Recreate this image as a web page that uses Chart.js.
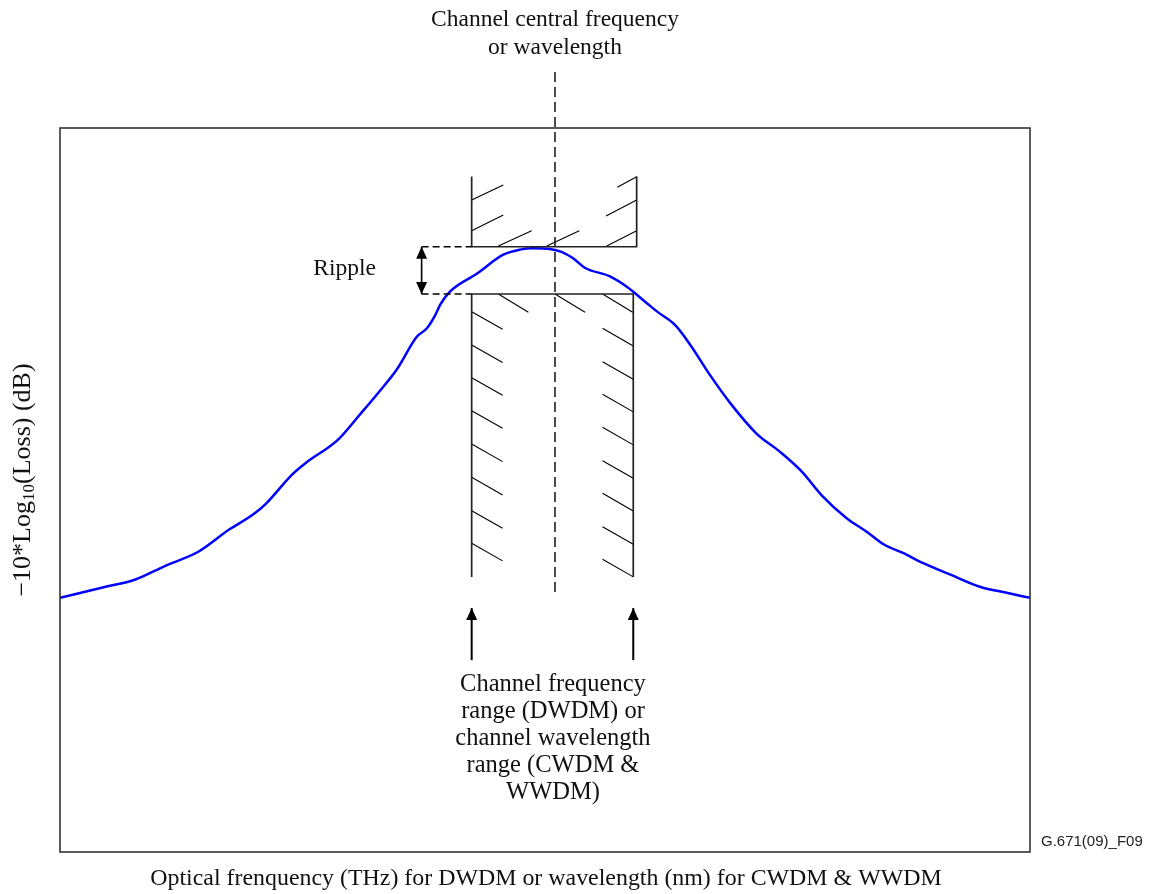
<!DOCTYPE html>
<html><head><meta charset="utf-8">
<script src="https://cdn.jsdelivr.net/npm/chart.js@4/dist/chart.umd.min.js"></script>
<style>html,body{margin:0;padding:0;background:#fff;}#wrap{width:1155px;height:894px;}</style>
</head><body><div id="wrap"><canvas id="c" width="1155" height="894"></canvas></div>
<script>
// ---- Data (relative units: frequency 0–100 across plot, level 0–100 up the plot) ----
const frequency = [0, 4.6, 7.7, 10.8, 14.3, 17.4, 19.9, 21.3, 23.9, 25.3, 28.7, 30.9, 32.8, 34.7, 36.8, 37.8, 38.7, 39.2, 40.2, 43.0, 45.7, 47.4, 48.8, 50.5, 51.7, 52.9, 54.1, 56.7, 58.4, 60.5, 61.7, 63.4, 65.0, 67.0, 69.1, 71.8, 74.2, 76.5, 78.5, 81.1, 83.2, 84.9, 86.9, 89.0, 91.8, 94.9, 97.6, 100];
const level = [35.1, 36.6, 37.6, 39.5, 41.5, 44.5, 46.6, 48.2, 52.1, 53.7, 57.0, 60.4, 63.4, 66.6, 71.2, 72.3, 74.2, 75.6, 77.4, 79.9, 82.5, 83.2, 83.4, 83.3, 82.9, 82.0, 80.7, 79.5, 78.1, 75.8, 74.5, 72.8, 70.0, 65.9, 62.0, 57.8, 55.3, 52.5, 49.3, 46.1, 44.2, 42.5, 41.3, 39.9, 38.3, 36.6, 35.8, 35.1];

// Mask (channel range) limits
const channelEdges = [42.44, 59.45, 59.1];   // left, upper-right, lower-right
const centreFrequency = 51.03;
const maskLevels = [93.3, 83.6, 77.07, 38.0]; // upper-mask top, upper limit, lower limit, lower-mask bottom
const centreLineSpan = [35.9, 108.0];
const rippleMarker = 37.28;
const channelArrowSpan = [26.5, 33.7];

// Hatch start points
const upperHatchStarts = [[42.44, 90.06], [42.44, 85.82], [45.19, 83.70], [50.18, 83.70], [56.36, 83.70], [56.29, 87.85], [57.45, 91.81]];
const upperHatchEnds   = [[45.70, 92.13], [45.70, 87.98], [48.62, 85.82], [53.54, 85.82], [59.45, 85.82], [59.45, 90.06], [59.45, 93.27]];
const lowerLeftHatchY  = [74.63, 70.03, 65.51, 60.95, 56.35, 51.75, 47.14, 42.64];
const lowerRightHatchY = [72.33, 67.72, 63.22, 58.66, 54.05, 49.54, 44.93, 40.43];
const lowerTopHatchX   = [45.19, 51.03, 55.94];

// Text
const topLabel = ['Channel central frequency', 'or wavelength'];
const rangeLabel = ['Channel frequency', 'range (DWDM) or', 'channel wavelength', 'range (CWDM &', 'WWDM)'];
const rippleLabel = 'Ripple';
const xTitle = 'Optical frenquency (THz) for DWDM or wavelength (nm) for CWDM & WWDM';
const yTitleParts = ['\u221210*Log', '10', '(Loss) (dB)'];
const figureId = 'G.671(09)_F09';

// ---- Build datasets ----
const pts = (xs, ys) => xs.map((x, i) => ({x, y: ys[i]}));
const GAP = {x: null, y: null};

const hatchData = [];
upperHatchStarts.forEach((s, i) => { hatchData.push({x: s[0], y: s[1]}, {x: upperHatchEnds[i][0], y: upperHatchEnds[i][1]}, GAP); });
const LDX = 3.19, LDY = 2.43;
lowerLeftHatchY.forEach(y => hatchData.push({x: channelEdges[0], y}, {x: channelEdges[0] + LDX, y: y - LDY}, GAP));
lowerRightHatchY.forEach(y => hatchData.push({x: channelEdges[2] - LDX + 0.02, y}, {x: channelEdges[2], y: y - LDY}, GAP));
lowerTopHatchX.forEach(x => hatchData.push({x, y: maskLevels[2]}, {x: Math.min(x + 3.1, channelEdges[2]), y: maskLevels[2] - 2.53}, GAP));

const black = '#000';
const lineDs = (data, extra) => Object.assign({data, borderColor: black, borderWidth: 1.5, pointRadius: 0, fill: false, tension: 0, spanGaps: false}, extra || {});

const datasets = [
  lineDs([{x: channelEdges[0], y: maskLevels[0]}, {x: channelEdges[0], y: maskLevels[1]}, {x: channelEdges[1], y: maskLevels[1]}, {x: channelEdges[1], y: maskLevels[0]}], {borderColor: '#222', borderWidth: 1.7}),
  lineDs([{x: channelEdges[0], y: maskLevels[3]}, {x: channelEdges[0], y: maskLevels[2]}, {x: channelEdges[2], y: maskLevels[2]}, {x: channelEdges[2], y: maskLevels[3]}], {borderColor: '#222', borderWidth: 1.7}),
  lineDs(hatchData, {borderWidth: 1.1}),
  lineDs([{x: centreFrequency, y: centreLineSpan[0]}, {x: centreFrequency, y: centreLineSpan[1]}], {borderWidth: 1.4, borderDash: [10, 5], clip: false}),
  lineDs([{x: rippleMarker, y: maskLevels[1]}, {x: channelEdges[0], y: maskLevels[1]}, GAP, {x: rippleMarker, y: maskLevels[2]}, {x: channelEdges[0], y: maskLevels[2]}], {borderWidth: 1.3, borderDash: [7, 4]}),
  lineDs([{x: rippleMarker, y: maskLevels[1]}, {x: rippleMarker, y: maskLevels[2]}], {borderWidth: 1.6, arrows: 'both'}),
  lineDs([{x: channelEdges[0], y: channelArrowSpan[0]}, {x: channelEdges[0], y: channelArrowSpan[1]}], {borderWidth: 2, arrows: 'end'}),
  lineDs([{x: channelEdges[2], y: channelArrowSpan[0]}, {x: channelEdges[2], y: channelArrowSpan[1]}], {borderWidth: 2, arrows: 'end'}),
  {data: pts(frequency, level), borderColor: '#0000ff', borderWidth: 2.5, pointRadius: 0, fill: false, cubicInterpolationMode: 'monotone'}
];

// ---- Plugins ----
const SERIF = '"Liberation Serif", "Times New Roman", serif';
const decor = {
  id: 'decor',
  afterDatasetsDraw(chart) {
    const {ctx, chartArea: a, scales: {x, y}} = chart;
    ctx.save();
    // arrow heads
    chart.data.datasets.forEach((ds, i) => {
      if (!ds.arrows) return;
      const meta = chart.getDatasetMeta(i);
      const p0 = meta.data[0], p1 = meta.data[meta.data.length - 1];
      const head = (tip, from) => {
        const ang = Math.atan2(tip.y - from.y, tip.x - from.x);
        const L = 12, W = 5.5;
        ctx.beginPath();
        ctx.moveTo(tip.x, tip.y);
        ctx.lineTo(tip.x - L * Math.cos(ang) + W * Math.sin(ang), tip.y - L * Math.sin(ang) - W * Math.cos(ang));
        ctx.lineTo(tip.x - L * Math.cos(ang) - W * Math.sin(ang), tip.y - L * Math.sin(ang) + W * Math.cos(ang));
        ctx.closePath();
        ctx.fillStyle = '#000';
        ctx.fill();
      };
      head(p1, p0);
      if (ds.arrows === 'both') head(p0, p1);
    });
    // frame
    ctx.strokeStyle = '#333';
    ctx.lineWidth = 1.6;
    ctx.strokeRect(a.left, a.top, a.right - a.left, a.bottom - a.top);

    // texts
    ctx.fillStyle = '#111';
    ctx.textBaseline = 'middle';
    ctx.textAlign = 'center';
    ctx.font = '23.5px ' + SERIF;
    const cx = x.getPixelForValue(centreFrequency);
    topLabel.forEach((t, i) => ctx.fillText(t, cx, 20 + i * 28));
    ctx.fillText(rippleLabel, x.getPixelForValue(rippleMarker) - 77, (y.getPixelForValue(maskLevels[1]) + y.getPixelForValue(maskLevels[2])) / 2 - 2);
    ctx.font = '24.5px ' + SERIF;
    const rx = (x.getPixelForValue(channelEdges[0]) + x.getPixelForValue(channelEdges[2])) / 2;
    rangeLabel.forEach((t, i) => ctx.fillText(t, rx + 0.5, a.bottom - 167 + i * 27));
    ctx.font = '23.9px ' + SERIF;
    ctx.fillText(xTitle, (a.left + a.right) / 2 + 1, a.bottom + 27);

    // y title with subscript
    ctx.save();
    ctx.translate(23, 480);
    ctx.rotate(-Math.PI / 2);
    ctx.textAlign = 'left';
    const f1 = '26px ' + SERIF, f2 = '17px ' + SERIF;
    ctx.font = f1; const w0 = ctx.measureText(yTitleParts[0]).width;
    ctx.font = f2; const w1 = ctx.measureText(yTitleParts[1]).width;
    ctx.font = f1; const w2 = ctx.measureText(yTitleParts[2]).width;
    const px = -(w0 + w1 + w2) / 2;
    ctx.font = f1; ctx.fillText(yTitleParts[0], px, 0);
    ctx.font = f2; ctx.fillText(yTitleParts[1], px + w0, 7);
    ctx.font = f1; ctx.fillText(yTitleParts[2], px + w0 + w1, 0);
    ctx.restore();

    ctx.font = '15px "Liberation Sans", Arial, sans-serif';
    ctx.textAlign = 'left';
    ctx.fillStyle = '#222';
    ctx.fillText(figureId, a.right + 11, a.bottom - 10);
    ctx.restore();
  }
};

new Chart(document.getElementById('c'), {
  type: 'line',
  data: {datasets},
  options: {
    responsive: false,
    animation: false,
    devicePixelRatio: 1,
    layout: {padding: {left: 60, right: 125, top: 128, bottom: 42}},
    scales: {
      x: {type: 'linear', min: 0, max: 100, display: false},
      y: {type: 'linear', min: 0, max: 100, display: false}
    },
    plugins: {legend: {display: false}, tooltip: {enabled: false}, title: {display: false}}
  },
  plugins: [decor]
});
</script></body></html>
